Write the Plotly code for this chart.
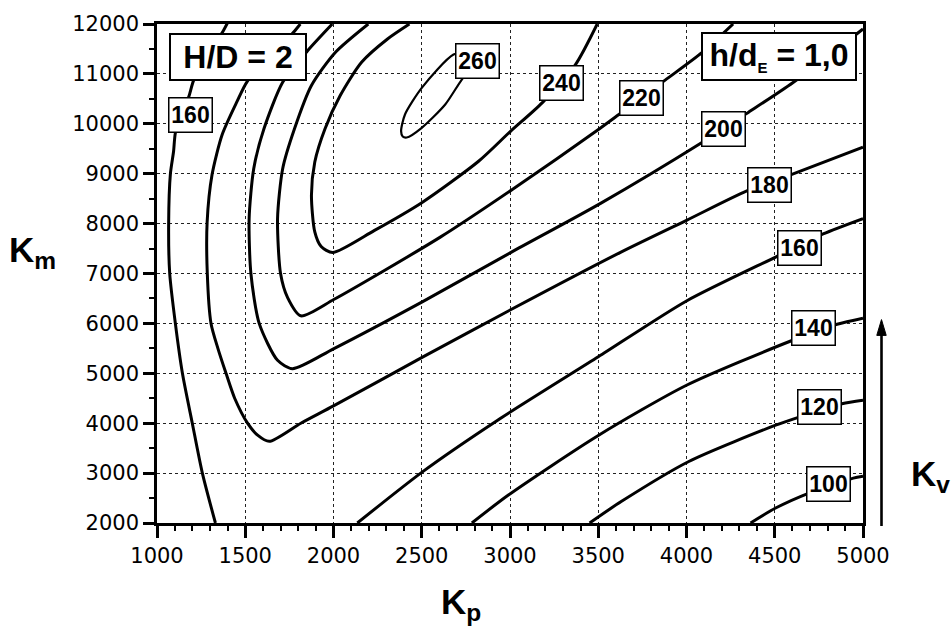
import plotly.graph_objects as go

# ---------------- data ----------------
x_ticks = [1000, 1500, 2000, 2500, 3000, 3500, 4000, 4500, 5000]
y_ticks = [2000, 3000, 4000, 5000, 6000, 7000, 8000, 9000, 10000, 11000, 12000]
x_tick_text = [str(v) for v in x_ticks]
y_tick_text = [str(v) for v in y_ticks]

# contour lines (Kp, Km) for each level
k100_x = [4363, 4505, 4694, 4945, 5000]
k100_y = [2000, 2300, 2600, 2900, 2935]

k120_x = [3451, 3630, 4013, 4505, 4647, 4881, 5000]
k120_y = [2000, 2430, 3233, 3960, 4133, 4390, 4460]

k140_x = [2784, 2991, 3498, 4000, 4587, 4853, 5000]
k140_y = [2000, 2561, 3749, 4760, 5642, 5982, 6105]

k160b_x = [2135, 2502, 2930, 3500, 4000, 4508, 4774, 5000]
k160b_y = [2000, 3020, 4060, 5330, 6450, 7335, 7792, 8100]

k160a_x = [1331, 1257, 1200, 1144, 1104, 1072, 1066, 1076, 1094, 1104, 1140, 1180, 1208, 1290, 1370, 1400]
k160a_y = [2000, 3000, 4000, 5000, 6000, 7000, 8000, 9000, 9450, 9815, 10200, 10540, 10874, 11400, 11828, 12026]

k180_x = [1812, 1772, 1640, 1510, 1453, 1369, 1312, 1284, 1285, 1306, 1345, 1391, 1440, 1513, 1570, 1636,
          1815, 2000, 2507, 3006, 3626, 4000, 4342, 4597, 5000]
k180_y = [12000, 11828, 11330, 10842, 10443, 9781, 8982, 8027, 7000, 6000, 5500, 5000, 4500, 4000, 3760, 3636,
          4000, 4346, 5328, 6278, 7424, 8066, 8656, 8986, 9530]

k200_x = [1993, 1852, 1712, 1606, 1548, 1522, 1532, 1579, 1683, 1768, 2000, 2508, 3006, 3513, 4083, 4343, 4604, 5000]
k200_y = [12000, 11460, 10833, 9900, 9100, 8100, 7000, 6000, 5260, 5093, 5490, 6441, 7424, 8406, 9616, 10213, 10829, 11900]

k220_x = [2197, 2010, 1875, 1779, 1712, 1683, 1700, 1740, 1815, 2004, 2605, 3011, 3511, 3617, 3879, 4089, 4264]
k220_y = [12000, 11430, 10767, 9900, 9100, 8100, 7000, 6517, 6152, 6483, 7729, 8680, 9912, 10187, 10875, 11430, 12000]

k240_x = [2430, 2306, 2159, 2038, 1952, 1894, 1875, 1894, 1930, 1995, 2230, 2500, 2822, 3000, 3182, 3371, 3494]
k240_y = [12000, 11700, 11233, 10567, 9900, 9233, 8567, 7833, 7540, 7420, 7860, 8420, 9250, 9840, 10420, 11187, 12000]

k260_x = [2790, 2680, 2500, 2405, 2383, 2392, 2415, 2500, 2633, 2727, 2800, 2790]
k260_y = [11450, 11387, 10720, 10187, 9853, 9745, 9725, 9920, 10387, 10887, 11200, 11450]

# contour labels
label_text = ["160", "260", "240", "220", "200", "180", "160", "140", "120", "100"]
label_x = [1189, 2814, 3291, 3743, 4207, 4468, 4638, 4717, 4756, 4807]
label_y = [10173, 11255, 10814, 10520, 9904, 8782, 7520, 5900, 4321, 2781]

# ---------------- figure ----------------
fig = go.Figure()

lines = [
    (k100_x, k100_y, 3.0), (k120_x, k120_y, 3.0), (k140_x, k140_y, 3.0),
    (k160b_x, k160b_y, 3.0), (k160a_x, k160a_y, 3.0), (k180_x, k180_y, 3.0),
    (k200_x, k200_y, 3.0), (k220_x, k220_y, 3.0), (k240_x, k240_y, 3.0),
    (k260_x, k260_y, 2.2),
]
for lx, ly, w in lines:
    fig.add_trace(go.Scatter(
        x=lx, y=ly, mode="lines",
        line=dict(color="black", width=w, shape="spline", smoothing=0.7),
        hoverinfo="skip", showlegend=False,
    ))

label_font = dict(family="Liberation Sans", size=23, color="black")
for t, lx, ly in zip(label_text, label_x, label_y):
    fig.add_annotation(
        x=lx, y=ly, xref="x", yref="y", text="<b>%s</b>" % t, showarrow=False,
        font=label_font, bgcolor="white", bordercolor="black", borderwidth=1.5,
        borderpad=1, width=40, height=31, xanchor="center", yanchor="middle",
    )

box_font = dict(family="Liberation Sans", size=32, color="black")
fig.add_annotation(
    x=1458, y=11334, xref="x", yref="y", text="<b>H/D = 2</b>", showarrow=False,
    font=box_font, bgcolor="white", bordercolor="black", borderwidth=2,
    borderpad=1, width=132, height=42, xanchor="center", yanchor="middle",
)
fig.add_annotation(
    x=4525, y=11345, xref="x", yref="y",
    text="<b>h/d<sub><span style='font-size:15px'>E</span></sub> = 1,0</b>", showarrow=False,
    font=box_font, bgcolor="white", bordercolor="black", borderwidth=2,
    borderpad=1, width=150, height=43, xanchor="center", yanchor="middle",
)

title_font = dict(family="Liberation Sans", size=35, color="black")
fig.add_annotation(x=-0.177, y=0.543, xref="paper", yref="paper", text="<b>K<sub>m</sub></b>",
                   showarrow=False, font=title_font, xanchor="center", yanchor="middle")
fig.add_annotation(x=0.4306, y=-0.163, xref="paper", yref="paper", text="<b>K<sub>p</sub></b>",
                   showarrow=False, font=title_font, xanchor="center", yanchor="middle")
fig.add_annotation(x=1.095, y=0.0934, xref="paper", yref="paper", text="<b>K<sub>v</sub></b>",
                   showarrow=False, font=title_font, xanchor="center", yanchor="middle")

# K_v arrow (shaft and head)
fig.add_shape(type="line", xref="paper", yref="paper", x0=1.0262, x1=1.0262, y0=-0.006, y1=0.385,
              line=dict(color="black", width=2.6))
fig.add_shape(type="path", xref="paper", yref="paper",
              path="M 1.0262 0.4076 L 1.0195 0.3760 L 1.0329 0.3760 Z",
              fillcolor="black", line=dict(color="black", width=1))

tick_font = dict(family="DejaVu Sans", size=21, color="black")
axis_common = dict(
    showline=True, linecolor="black", linewidth=2.5, mirror=True,
    showgrid=True, gridcolor="#222", gridwidth=1, griddash="dot",
    ticks="outside", tickcolor="black", tickwidth=2.5, tickfont=tick_font,
    zeroline=False, tickmode="array",
)
fig.update_xaxes(range=[1000, 5000], tickvals=x_ticks, ticktext=x_tick_text, ticklen=12,
                 minor=dict(dtick=100, ticks="outside", ticklen=5, tickwidth=1.5, tickcolor="black", showgrid=False),
                 **axis_common)
fig.update_yaxes(range=[2000, 12000], tickvals=y_ticks, ticktext=y_tick_text, ticklen=11,
                 minor=dict(dtick=500, ticks="outside", ticklen=5, tickwidth=1.5, tickcolor="black", showgrid=False),
                 **axis_common)

fig.update_layout(
    width=951, height=629,
    margin=dict(l=157, r=88, t=20, b=106),
    paper_bgcolor="white", plot_bgcolor="white",
    showlegend=False,
)

fig.write_html("out.html")
